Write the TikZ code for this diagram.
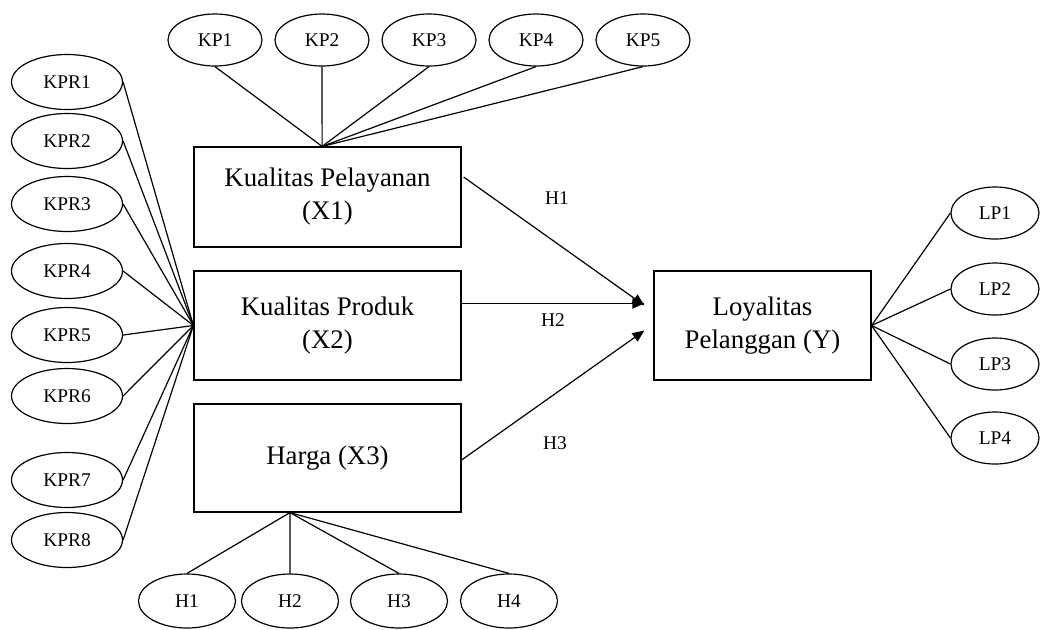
\documentclass[tikz,border=0pt]{standalone}
\usepackage{fontspec}
\setmainfont{Liberation Serif}
\usetikzlibrary{shapes.geometric,arrows.meta,calc}

\begin{document}
\begin{tikzpicture}[x=0.5pt, y=-0.5pt, line width=0.6pt,
  indikator/.style={draw, ellipse, inner sep=0pt, minimum width=47pt, minimum height=26pt, font=\fontsize{9.7}{11}\selectfont},
  indikatorkiri/.style={indikator, minimum width=55.5pt, minimum height=27.5pt},
  variabel/.style={draw, rectangle, inner sep=0pt, align=center, minimum width=133.5pt, font=\fontsize{13.4}{16.5}\selectfont},
  hipotesis/.style={inner sep=0pt, font=\fontsize{9.7}{11}\selectfont},
  panah/.style={-{Triangle[length=6pt,width=5pt]}}]
\useasboundingbox (0,0) rectangle (1040,629);

\node[variabel, minimum height=50pt] (X1) at (327.5,197) {Kualitas Pelayanan\\(X1)};
\node[variabel, minimum height=54.5pt] (X2) at (327.5,325.5) {Kualitas Produk\\(X2)};
\node[variabel, minimum height=54pt] (X3) at (327.5,458) {Harga (X3)};
\node[variabel, minimum width=108.5pt, minimum height=54.5pt] (Y) at (762.5,325.5) {Loyalitas\\Pelanggan (Y)};

\node[indikator] (KP1) at (215,40) {KP1};
\node[indikator] (KP2) at (322,40) {KP2};
\node[indikator] (KP3) at (429,40) {KP3};
\node[indikator] (KP4) at (536,40) {KP4};
\node[indikator] (KP5) at (643,40) {KP5};

\node[indikatorkiri] (KPR1) at (67,82) {KPR1};
\node[indikatorkiri] (KPR2) at (67,141) {KPR2};
\node[indikatorkiri] (KPR3) at (67,204) {KPR3};
\node[indikatorkiri] (KPR4) at (67,271) {KPR4};
\node[indikatorkiri] (KPR5) at (67,335) {KPR5};
\node[indikatorkiri] (KPR6) at (67,396) {KPR6};
\node[indikatorkiri] (KPR7) at (67,480) {KPR7};
\node[indikatorkiri] (KPR8) at (67,540) {KPR8};

\node[indikator, minimum width=48.5pt, minimum height=27pt] (H1) at (187,601) {H1};
\node[indikator, minimum width=48.5pt, minimum height=27pt] (H2) at (290,601) {H2};
\node[indikator, minimum width=48.5pt, minimum height=27pt] (H3) at (399,601) {H3};
\node[indikator, minimum width=48.5pt, minimum height=27pt] (H4) at (509,601) {H4};

\node[indikator, minimum width=44pt] (LP1) at (995,213) {LP1};
\node[indikator, minimum width=44pt] (LP2) at (995,289) {LP2};
\node[indikator, minimum width=44pt] (LP3) at (995,364) {LP3};
\node[indikator, minimum width=44pt] (LP4) at (995,438) {LP4};

\coordinate (X1t) at ($(X1.north west)!0.48!(X1.north east)$);
\coordinate (X3b) at ($(X3.south west)!0.36!(X3.south east)$);

\draw (KP1.south) -- (X1t);
\draw (KP2.south) -- (X1t);
\draw (KP3.south) -- (X1t);
\draw (KP4.south) -- (X1t);
\draw (KP5.south) -- (X1t);

\draw (KPR1.east) -- (X2.west);
\draw (KPR2.east) -- (X2.west);
\draw (KPR3.east) -- (X2.west);
\draw (KPR4.east) -- (X2.west);
\draw (KPR5.east) -- (X2.west);
\draw (KPR6.east) -- (X2.west);
\draw (KPR7.east) -- (X2.west);
\draw (KPR8.east) -- (X2.west);

\draw (H1.north) -- (X3b);
\draw (H2.north) -- (X3b);
\draw (H3.north) -- (X3b);
\draw (H4.north) -- (X3b);

\draw (Y.east) -- (LP1.west);
\draw (Y.east) -- (LP2.west);
\draw (Y.east) -- (LP3.west);
\draw (Y.east) -- (LP4.west);

\coordinate (t1) at ($(Y.west)+(-9,-20)$);
\coordinate (t2) at ($(Y.west)+(-9,-22)$);
\coordinate (t3) at ($(Y.west)+(-9,5)$);

\draw[panah] ($(X1.east)+(2,-20)$) -- (t1);
\draw[panah] ($(X2.east)+(0,-22)$) -- (t2);
\draw[panah] ($(X3.east)+(0,2)$) -- (t3);

\node[hipotesis] (h1) at (557,198) {H1};
\node[hipotesis] (h2) at (553,320) {H2};
\node[hipotesis] (h3) at (555,443) {H3};
\end{tikzpicture}
\end{document}
